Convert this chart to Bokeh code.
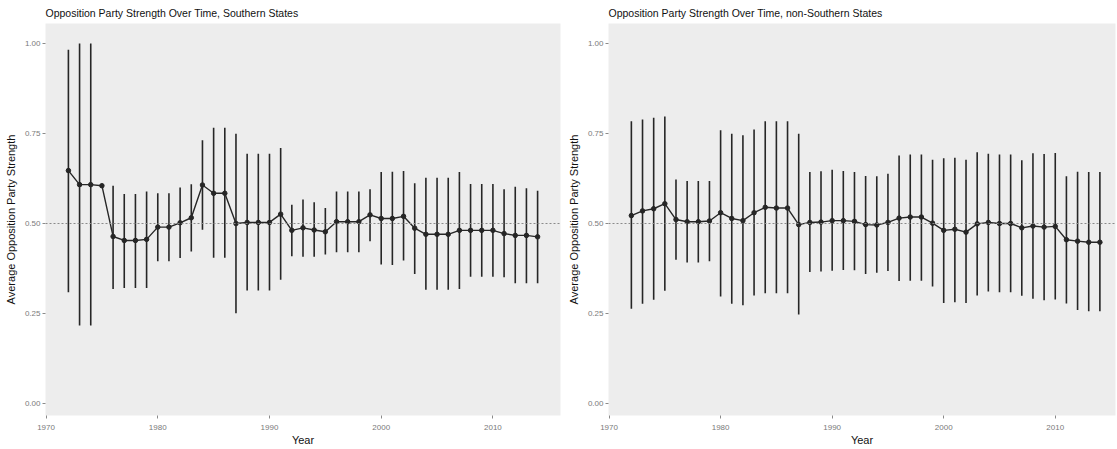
from bokeh.plotting import figure
from bokeh.layouts import row
from bokeh.models import Range1d, FixedTicker, NumeralTickFormatter, Span, Title
from bokeh.embed import file_html
from bokeh.resources import INLINE
import math

years = list(range(1972, 2015))

south_mean = [0.647, 0.608, 0.608, 0.605, 0.464, 0.453, 0.453, 0.456, 0.490, 0.490,
              0.502, 0.516, 0.607, 0.584, 0.584, 0.500, 0.503, 0.503, 0.503, 0.526,
              0.481, 0.488, 0.482, 0.477, 0.505, 0.505, 0.505, 0.524, 0.514, 0.514,
              0.520, 0.487, 0.470, 0.470, 0.470, 0.481, 0.481, 0.481, 0.481, 0.472,
              0.467, 0.467, 0.463]
south_hi = [0.983, 1.000, 1.000, float("nan"), 0.605, 0.582, 0.582, 0.589, 0.584, 0.584,
            0.600, 0.609, 0.731, 0.766, 0.766, 0.749, 0.694, 0.694, 0.694, 0.710,
            0.552, 0.567, 0.559, 0.543, 0.589, 0.589, 0.589, 0.595, 0.643, 0.644,
            0.646, 0.612, 0.627, 0.627, 0.627, 0.643, 0.610, 0.610, 0.610, 0.595,
            0.602, 0.598, 0.591]
south_lo = [0.309, 0.217, 0.217, float("nan"), 0.318, 0.321, 0.321, 0.321, 0.395, 0.395,
            0.404, 0.422, 0.483, 0.405, 0.405, 0.251, 0.314, 0.314, 0.314, 0.344,
            0.409, 0.408, 0.408, 0.414, 0.420, 0.420, 0.420, 0.451, 0.386, 0.385,
            0.397, 0.360, 0.316, 0.316, 0.316, 0.318, 0.352, 0.352, 0.352, 0.351,
            0.334, 0.334, 0.334]

north_mean = [0.522, 0.535, 0.541, 0.555, 0.511, 0.505, 0.505, 0.507, 0.530, 0.514,
              0.508, 0.530, 0.545, 0.543, 0.543, 0.497, 0.503, 0.504, 0.508, 0.508,
              0.506, 0.497, 0.496, 0.503, 0.515, 0.518, 0.518, 0.501, 0.481, 0.484,
              0.476, 0.499, 0.503, 0.500, 0.500, 0.488, 0.493, 0.490, 0.492, 0.455,
              0.451, 0.448, 0.448]
north_hi = [0.784, 0.789, 0.794, 0.797, 0.622, 0.618, 0.618, 0.618, 0.759, 0.749,
            0.745, 0.761, 0.784, 0.784, 0.784, 0.749, 0.643, 0.645, 0.649, 0.646,
            0.643, 0.632, 0.631, 0.638, 0.689, 0.692, 0.692, 0.677, 0.681, 0.683,
            0.677, 0.698, 0.694, 0.692, 0.692, 0.676, 0.695, 0.693, 0.696, 0.631,
            0.644, 0.643, 0.643]
north_lo = [0.263, 0.277, 0.288, 0.313, 0.399, 0.392, 0.392, 0.395, 0.297, 0.277,
            0.273, 0.300, 0.306, 0.306, 0.306, 0.247, 0.365, 0.367, 0.369, 0.371,
            0.370, 0.360, 0.363, 0.368, 0.340, 0.341, 0.341, 0.325, 0.279, 0.281,
            0.279, 0.300, 0.311, 0.309, 0.309, 0.299, 0.291, 0.287, 0.289, 0.278,
            0.260, 0.256, 0.256]

x_ticks = [1970, 1980, 1990, 2000, 2010]
y_ticks = [0.0, 0.25, 0.5, 0.75, 1.0]

FONT = "Liberation Sans"
INK = "#262626"


def make(title, mean, lo, hi, width, left_border, right_border, x_end):
    p = figure(width=width, height=449, output_backend="svg", toolbar_location=None,
               x_range=Range1d(1969.95, x_end), y_range=Range1d(-0.0333, 1.0556),
               min_border_left=left_border, min_border_right=right_border,
               min_border_top=23, min_border_bottom=34)
    p.title = None
    spacer = Title(text=" ", text_font=FONT, text_font_size="3px", standoff=0, offset=0)
    p.add_layout(spacer, "above")
    t = Title(text=title, text_font=FONT, text_font_size="10.5px", text_font_style="normal",
              text_color="#111111", standoff=0, offset=0)
    p.add_layout(t, "above")
    p.background_fill_color = "#ededed"
    p.border_fill_color = "white"
    p.outline_line_color = None
    p.xgrid.grid_line_color = None
    p.ygrid.grid_line_color = None

    p.add_layout(Span(location=0.5, dimension="width", line_color="#8a8a8a",
                      line_dash="2 2", line_width=1))

    ok = [not (math.isnan(l) or math.isnan(h)) for l, h in zip(lo, hi)]
    xs = [y for y, k in zip(years, ok) if k]
    ls = [l for l, k in zip(lo, ok) if k]
    hs = [h for h, k in zip(hi, ok) if k]
    p.segment(x0=xs, y0=ls, x1=xs, y1=hs, line_color=INK, line_width=1.6)
    p.line(years, mean, line_color=INK, line_width=1.4)
    p.scatter(years, mean, size=4.5, fill_color=INK, line_color=INK)

    for ax in (p.xaxis[0], p.yaxis[0]):
        ax.axis_line_color = None
        ax.major_tick_line_color = "#8a8a8a"
        ax.major_tick_out = 3
        ax.major_tick_in = 0
        ax.minor_tick_line_color = None
        ax.major_label_text_font = FONT
        ax.major_label_text_font_size = "8px"
        ax.major_label_text_color = "#7a7a7a"
        ax.axis_label_text_font = FONT
        ax.axis_label_text_font_size = "11px"
        ax.axis_label_text_font_style = "normal"
        ax.axis_label_text_color = "#111111"

    p.xaxis.major_label_standoff = 6
    p.xaxis.axis_label_standoff = 1
    p.yaxis.major_label_standoff = 2
    p.yaxis.axis_label_standoff = 5

    p.xaxis.ticker = FixedTicker(ticks=x_ticks)
    p.yaxis.ticker = FixedTicker(ticks=y_ticks)
    p.yaxis.formatter = NumeralTickFormatter(format="0.00")
    p.xaxis.axis_label = "Year"
    p.yaxis.axis_label = "Average Opposition Party Strength"
    return p


p1 = make("Opposition Party Strength Over Time, Southern States",
          south_mean, south_lo, south_hi, 564, 45, 4, 2016.05)
p2 = make("Opposition Party Strength Over Time, non-Southern States",
          north_mean, north_lo, north_hi, 553, 43, 2, 2015.4)

layout = row(p1, p2, spacing=0)
open("out.html", "w").write(file_html(layout, INLINE))
